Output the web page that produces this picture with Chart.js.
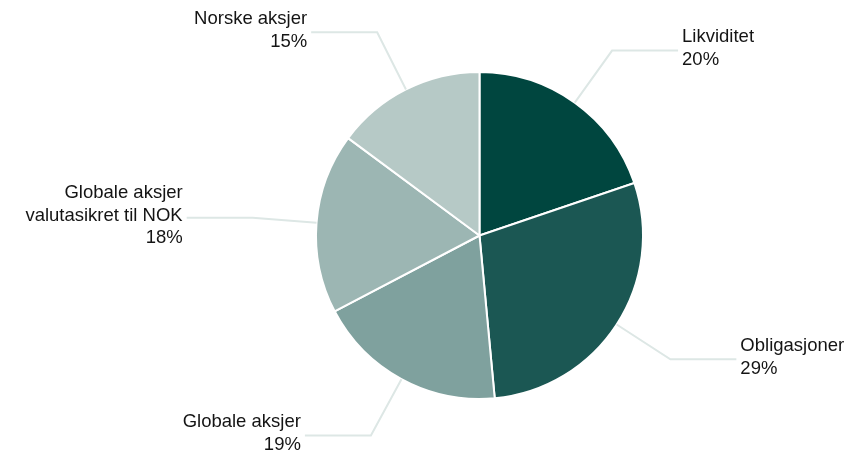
<!DOCTYPE html>
<html>
<head>
<meta charset="utf-8">
<script src="https://cdn.jsdelivr.net/npm/chart.js@4.4.1/dist/chart.umd.min.js"></script>
<style>
  html, body { margin: 0; padding: 0; background: #fff; }
  #wrap { width: 856px; height: 456px; }
</style>
</head>
<body>
<div id="wrap"><canvas id="allocation"></canvas></div>
<script>
var labels = [
    ['Likviditet'],
    ['Obligasjoner'],
    ['Globale aksjer'],
    ['Globale aksjer', 'valutasikret til NOK'],
    ['Norske aksjer']
];
var shares = [20, 29, 19, 18, 15];
var sliceColors = ['#00463f', '#1b5753', '#7fa19e', '#9cb6b3', '#b6c9c6'];

// leader lines + labels outside the pie
var outsideLabels = {
    id: 'outsideLabels',
    afterDatasetsDraw: function(chart) {
        var ctx = chart.ctx;
        var arcs = chart.getDatasetMeta(0).data;
        ctx.save();
        ctx.font = '18.5px "Liberation Sans", Arial, sans-serif';
        ctx.fillStyle = '#141414';
        ctx.textBaseline = 'middle';
        arcs.forEach(function(arc, i) {
            var p = arc.getProps(['x', 'y', 'startAngle', 'endAngle', 'outerRadius'], true);
            var mid = (p.startAngle + p.endAngle) / 2;
            var cos = Math.cos(mid), sin = Math.sin(mid);
            var x0 = p.x + cos * p.outerRadius;
            var y0 = p.y + sin * p.outerRadius;
            var x1 = p.x + cos * (p.outerRadius + 64);
            var y1 = p.y + sin * (p.outerRadius + 64);
            var right = cos >= 0;
            var x2 = x1 + (right ? 66 : -66);

            ctx.strokeStyle = '#dde7e5';
            ctx.lineWidth = 2;
            ctx.beginPath();
            ctx.moveTo(x0, y0);
            ctx.lineTo(x1, y1);
            ctx.lineTo(x2, y1);
            ctx.stroke();

            var lines = labels[i].concat([shares[i] + '%']);
            var lh = 22.5;
            var top = y1 - 2 - (lines.length - 1) * lh / 2;
            ctx.textAlign = right ? 'left' : 'right';
            var tx = x2 + (right ? 4 : -4);
            lines.forEach(function(t, k) {
                ctx.fillText(t, tx, top + k * lh);
            });
        });
        ctx.restore();
    }
};

var pie = document.getElementById('allocation').getContext('2d');
new Chart(pie, {
    type: 'pie',
    data: {
        labels: labels,
        datasets: [{
            data: shares,
            backgroundColor: sliceColors,
            borderColor: '#ffffff',
            borderWidth: 2
        }]
    },
    options: {
        responsive: true,
        maintainAspectRatio: false,
        animation: false,
        layout: {
            padding: { top: 71, bottom: 56, left: 315, right: 212 }
        },
        plugins: {
            legend: { display: false },
            tooltip: { enabled: false }
        }
    },
    plugins: [outsideLabels]
});
</script>
</body>
</html>
